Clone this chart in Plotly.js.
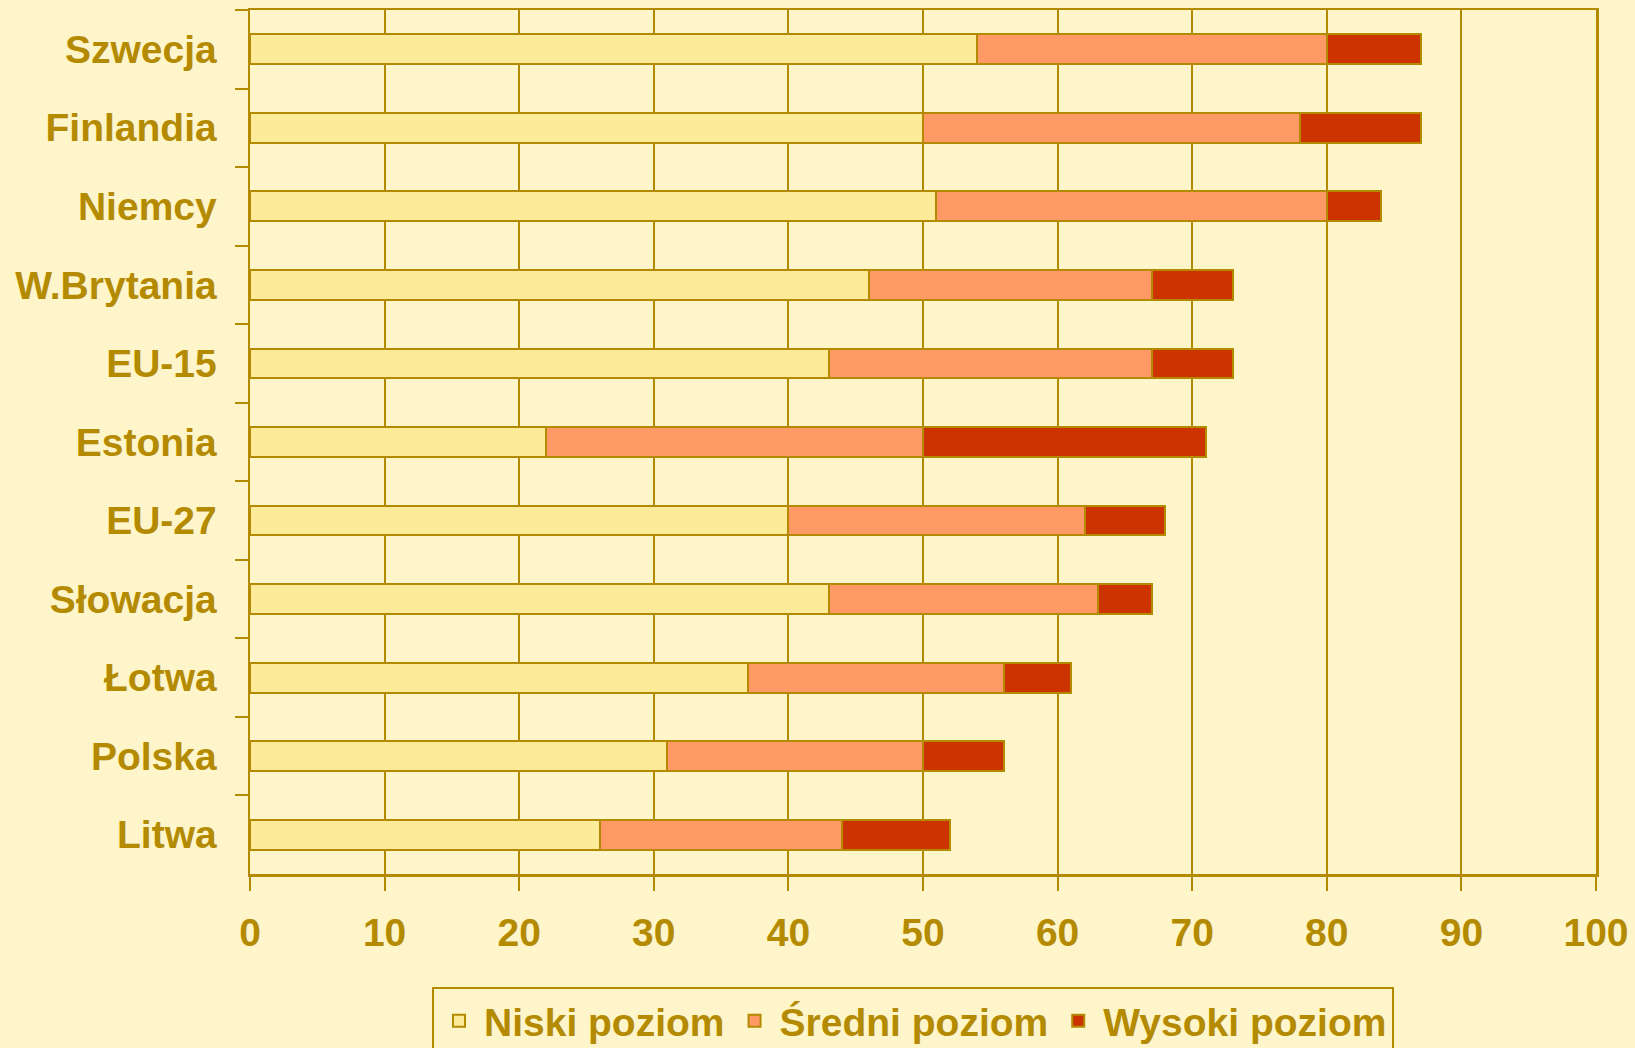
<!DOCTYPE html>
<html>
<head>
<meta charset="utf-8">
<script src="https://cdn.plot.ly/plotly-3.0.1.min.js"></script>
<style>
  html, body { margin: 0; padding: 0; background: #FFF5CA; }
  #chart { width: 1635px; height: 1048px; }
</style>
</head>
<body>
<div id="chart"></div>
<script>
const countries = ["Szwecja", "Finlandia", "Niemcy", "W.Brytania", "EU-15", "Estonia", "EU-27", "Słowacja", "Łotwa", "Polska", "Litwa"];
const niski  = [54, 50, 51, 46, 43, 22, 40, 43, 37, 31, 26];
const sredni = [26, 28, 29, 21, 24, 28, 22, 20, 19, 19, 18];
const wysoki = [7, 9, 4, 6, 6, 21, 6, 4, 5, 6, 8];
const seriesNames = ["Niski poziom", "Średni poziom", "Wysoki poziom"];

const gold = "#B38A00";
const bg = "#FFF5CA";
const fonts = { family: "Liberation Sans, Arial, sans-serif", size: 39, color: gold, weight: "bold" };

function bar(name, vals, color) {
  return {
    type: "bar", orientation: "h", name: name,
    y: countries, x: vals,
    marker: { color: color, line: { color: gold, width: 2 } },
    hoverinfo: "x+y+name"
  };
}

const data = [
  bar(seriesNames[0], niski, "#FDEB9A"),
  bar(seriesNames[1], sredni, "#FF9966"),
  bar(seriesNames[2], wysoki, "#CC3300")
];

const layout = {
  width: 1635, height: 1048,
  paper_bgcolor: bg, plot_bgcolor: bg,
  margin: { l: 250, r: 39, t: 10, b: 174, autoexpand: false },
  barmode: "stack",
  bargap: 0.62,
  font: fonts,
  xaxis: {
    range: [0, 100], dtick: 10, tick0: 0,
    showgrid: true, gridcolor: gold, gridwidth: 2,
    showline: true, linecolor: gold, linewidth: 2.5, mirror: true,
    ticks: "outside", ticklen: 14, tickwidth: 2, tickcolor: gold,
    ticklabelstandoff: 9,
    tickfont: fonts, zeroline: false, fixedrange: true
  },
  yaxis: {
    type: "category", autorange: "reversed",
    tickson: "boundaries",
    showgrid: false,
    showline: true, linecolor: gold, linewidth: 2.5, mirror: true,
    ticks: "outside", ticklen: 13, tickwidth: 2, tickcolor: gold,
    ticklabelstandoff: 23,
    tickfont: fonts, fixedrange: true
  },
  showlegend: true,
  legend: {
    orientation: "h",
    xref: "container", yref: "container",
    x: 432 / 1635, xanchor: "left",
    y: (1048 - 987) / 1048, yanchor: "top",
    bgcolor: bg, bordercolor: gold, borderwidth: 2,
    font: fonts,
    itemwidth: 40,
    traceorder: "normal"
  }
};

Plotly.newPlot("chart", data, layout, { displayModeBar: false, staticPlot: true });
</script>
</body>
</html>
